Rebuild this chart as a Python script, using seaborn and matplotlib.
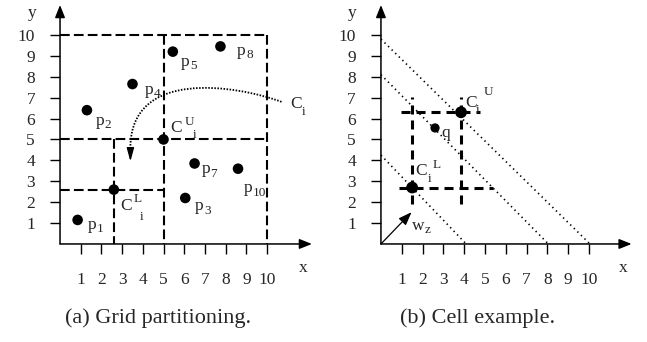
import numpy as np
import pandas as pd
import seaborn as sns
import matplotlib.pyplot as plt
from matplotlib.path import Path
from matplotlib.patches import PathPatch

# ---- data ----
ticks = list(range(1, 11))

# (a) grid partitioning
pts_a_name = ['1', '2', '3', '4', '5', '7', '8', '10']
pts_a_x = [0.85, 1.3, 6.05, 3.5, 5.45, 6.5, 7.75, 8.6]
pts_a_y = [1.15, 6.4, 2.2, 7.65, 9.2, 3.85, 9.45, 3.6]
# label offsets (points) for p_i
pts_a_off = [(7, -6.5), (6, -10.5), (7, -9), (9, -7), (6, -10), (5, -7), (12, -6), (4, -17)]

corner_a_x = [2.6, 5.0]
corner_a_y = [2.6, 5.0]

# dashed cell boundaries: (x0, x1, y0, y1)
grid_a_h = [(0, 10, 10, 10), (0, 10, 5, 5), (0, 5, 2.6, 2.6)]
grid_a_v = [(10, 10, 10, 0), (5, 5, 10, 0), (2.6, 2.6, 5, 0)]

# dotted curve C_i (cubic bezier control points) + arrow end
curve_a = [(10.7, 6.8), (8.5, 7.6), (3.4, 8.4), (3.4, 4.6)]
curve_a_tip = (3.4, 3.95)

# (b) cell example
corner_b_x = [1.5, 3.85]
corner_b_y = [2.7, 6.3]
q_x, q_y = 2.6, 5.55
cell_b_h = [(0.95, 4.75, 6.3, 6.3), (0.88, 5.4, 2.7, 2.7)]
cell_b_v = [(1.5, 1.5, 1.9, 7.05), (3.85, 3.85, 1.9, 7.05)]
diag_b = [(0, 10, 9.8, 0.05), (0, 8, 8.1, 0.05), (0, 4.05, 4.25, 0.05)]
wz_tip = (1.47, 1.52)

sns.set_style('white')
plt.rcParams['font.family'] = ['Liberation Serif', 'DejaVu Serif']
plt.rcParams['lines.scale_dashes'] = False

FS = 12.5      # tick labels
LS = 12.5      # point labels
SS = 9.5       # sub / superscripts
CS = 16        # captions

fig = plt.figure(figsize=(6.47, 3.42), dpi=100)
ax_a = fig.add_axes([0, 42 / 342, 320 / 647, 300 / 342])
ax_b = fig.add_axes([320 / 647, 42 / 342, 327 / 647, 300 / 342])
ax_a.set_xlim(-2.9, 12.56)
ax_b.set_xlim(-2.93, 12.79)


def setup_axes(ax, xtip):
    ax.set_ylim(-2.68, 11.67)
    for s in ax.spines.values():
        s.set_visible(False)
    ax.spines['left'].set_position(('data', 0))
    ax.spines['bottom'].set_position(('data', 0))
    ax.set_xticks(ticks)
    ax.set_yticks(ticks)
    ax.tick_params(axis='x', direction='out', length=7, width=1.0, pad=13.5,
                   labelsize=FS, bottom=True, color='black')
    ax.tick_params(axis='y', direction='out', length=7, width=1.0, pad=11,
                   labelsize=FS, left=True, color='black')
    arrow = dict(arrowstyle='-|>,head_length=0.75,head_width=0.3', color='black',
                 lw=1.1, mutation_scale=10, shrinkA=0, shrinkB=0)
    ax.annotate('', xy=(xtip, 0), xytext=(0, 0), arrowprops=arrow)
    ax.annotate('', xy=(0, 11.43), xytext=(0, 0), arrowprops=arrow)
    ax.text(xtip - 0.4, -1.15, 'x', fontsize=FS, ha='center', va='center')
    ax.text(-1.36, 11.05, 'y', fontsize=FS, ha='center', va='center')


def part(ax, xy, off, s, size=LS):
    # one piece of a label, baseline placed at an offset (points) from xy
    return ax.annotate(s, xy, xytext=off, textcoords='offset points',
                       fontsize=size, va='baseline')


def label(ax, xy, off, base, sub):
    t = part(ax, xy, off, base)
    ax.annotate(sub, (1, 0), xycoords=t, xytext=(0.3, -1.8),
                textcoords='offset points', fontsize=SS, va='bottom')


setup_axes(ax_a, 12.17)
setup_axes(ax_b, 12.05)

# ---- panel (a) ----
dash_a = dict(color='black', lw=1.5, linestyle=(0, (7, 3)))
for x0, x1, y0, y1 in grid_a_h + grid_a_v:
    ax_a.plot([x0, x1], [y0, y1], **dash_a)

df_a = pd.DataFrame({'x': pts_a_x + corner_a_x, 'y': pts_a_y + corner_a_y})
sns.scatterplot(data=df_a, x='x', y='y', ax=ax_a, color='black', s=58,
                edgecolor='none', zorder=5)

for name, x, y, off in zip(pts_a_name, pts_a_x, pts_a_y, pts_a_off):
    label(ax_a, (x, y), off, 'p', name)

cu_a = (corner_a_x[1], corner_a_y[1])
part(ax_a, cu_a, (5.2, 5.4), 'C')
part(ax_a, cu_a, (15.5, 10.4), 'U', SS)
part(ax_a, cu_a, (21, 1.2), 'i', SS)
cl_a = (corner_a_x[0], corner_a_y[0])
part(ax_a, cl_a, (4.3, -14.4), 'C')
part(ax_a, cl_a, (13.9, -8.6), 'L', SS)
part(ax_a, cl_a, (18.7, -21.6), 'i', SS)

codes = [Path.MOVETO, Path.CURVE4, Path.CURVE4, Path.CURVE4]
ax_a.add_patch(PathPatch(Path(curve_a, codes), fill=False, color='black',
                         lw=1.3, linestyle=(0, (1.1, 1.1))))
ax_a.annotate('', xy=curve_a_tip, xytext=curve_a[-1],
              arrowprops=dict(arrowstyle='-|>,head_length=0.8,head_width=0.22',
                              color='black', lw=1.0, mutation_scale=10,
                              shrinkA=0, shrinkB=0))
part(ax_a, curve_a[0], (6, -4.5), 'C')
part(ax_a, curve_a[0], (14.8, -9.6), 'i', SS)

# ---- panel (b) ----
for x0, x1, y0, y1 in diag_b:
    ax_b.plot([x0, x1], [y0, y1], color='black', lw=1.2,
              linestyle=(0, (1, 2.6)))
dash_b = dict(color='black', lw=2.2, linestyle=(0, (6.5, 4.3)))
for x0, x1, y0, y1 in cell_b_h + cell_b_v:
    ax_b.plot([x0, x1], [y0, y1], **dash_b)

df_b = pd.DataFrame({'x': corner_b_x + [q_x], 'y': corner_b_y + [q_y],
                     'kind': ['corner', 'corner', 'query']})
sns.scatterplot(data=df_b, x='x', y='y', ax=ax_b, size='kind',
                sizes={'corner': 72, 'query': 44}, color='black',
                edgecolor='none', zorder=5, legend=False)

part(ax_b, (q_x, q_y), (4.3, -6.3), 'q')
cu_b = (corner_b_x[1], corner_b_y[1])
part(ax_b, cu_b, (3.1, 3.8), 'C')
part(ax_b, cu_b, (10.5, -0.5), 'i', SS)
part(ax_b, cu_b, (16, 12.5), 'U', SS)
cl_b = (corner_b_x[0], corner_b_y[0])
part(ax_b, cl_b, (2, 8.9), 'C')
part(ax_b, cl_b, (11.3, 3.8), 'i', SS)
part(ax_b, cl_b, (14.9, 13.9), 'L', SS)

ax_b.annotate('', xy=wz_tip, xytext=(0, 0),
              arrowprops=dict(arrowstyle='-|>,head_length=0.8,head_width=0.3',
                              color='black', lw=0.9, mutation_scale=10,
                              shrinkA=0, shrinkB=0))
label(ax_b, (1.49, 0.67), (0, 0), 'w', 'z')

for ax in (ax_a, ax_b):
    ax.set_xlabel('')
    ax.set_ylabel('')

fig.text(158 / 647, 1 - 318 / 342, '(a) Grid partitioning.', fontsize=CS,
         ha='center', va='center')
fig.text(478 / 647, 1 - 318 / 342, '(b) Cell example.', fontsize=CS,
         ha='center', va='center')

fig.savefig('out.png', dpi=100)
